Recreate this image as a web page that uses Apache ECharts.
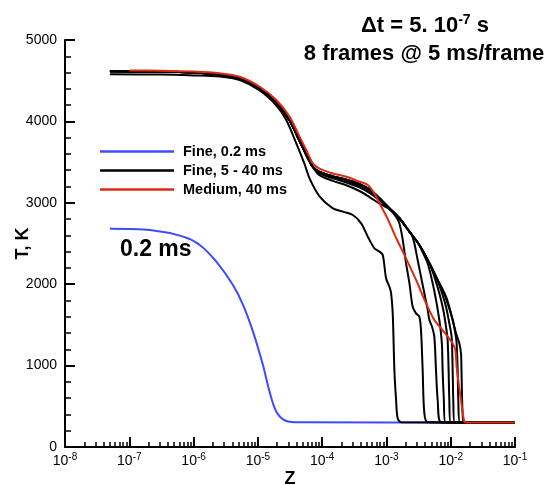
<!DOCTYPE html>
<html>
<head>
<meta charset="utf-8">
<script src="https://cdn.jsdelivr.net/npm/echarts@6/dist/echarts.min.js"></script>
<style>
  html, body { margin: 0; padding: 0; background: #fff; }
  #chart { width: 551px; height: 485px; }
</style>
</head>
<body>
<div id="chart"></div>
<script>
// Temperature profiles T(Z) along the axis, log-scaled Z.

// Axis ticks
const decadeTicks = [1e-8, 1e-7, 1e-6, 1e-5, 1e-4, 1e-3, 1e-2, 1e-1];
const minorMultipliers = [2, 3, 4, 5, 6, 7, 8, 9];

// Fine grid, 0.2 ms  [Z, T]
const fine02 = [
  [5e-8, 2680], [2.1e-7, 2665], [6.9e-7, 2584], [1.25e-6, 2482], [2.26e-6, 2277],
  [4.1e-6, 1990], [5.9e-6, 1744], [8.4e-6, 1417], [1.2e-5, 1007], [1.52e-5, 680],
  [1.94e-5, 434], [2.77e-5, 319], [4.46e-5, 303], [1e-1, 300]
];

// Fine grid, 5 ms frame  [Z, T]
const frame5ms = [
  [5e-8, 4578], [3.2e-7, 4575], [1e-6, 4565], [2.55e-6, 4552], [5.2e-6, 4508],
  [1.07e-5, 4380], [1.94e-5, 4195], [2.77e-5, 4017], [3.96e-5, 3731], [5.25e-5, 3490],
  [6.37e-5, 3300], [9.1e-5, 3080], [1.47e-4, 2932], [2.1e-4, 2891], [3.0e-4, 2850],
  [4.05e-4, 2748], [5.13e-4, 2584], [6.5e-4, 2441], [7.8e-4, 2400], [8.77e-4, 2360],
  [9.89e-4, 2070], [1.114e-3, 1969], [1.183e-3, 1888], [1.253e-3, 1642], [1.33e-3, 946],
  [1.413e-3, 577], [1.496e-3, 353], [1.69e-3, 305], [1e-1, 300]
];

// Hot core shared by the later frames (10 - 40 ms)
const zHot = [5e-8, 3.2e-7, 1e-6, 2.55e-6, 5.2e-6, 1.07e-5, 1.94e-5, 3.12e-5, 4.46e-5,
  5.66e-5, 7.18e-5, 9.1e-5, 1.47e-4, 2.37e-4, 3.81e-4, 5.45e-4, 7.8e-4];
const tHot10ms = [4615, 4612, 4600, 4575, 4530, 4400, 4230, 4010, 3760, 3590, 3440, 3340, 3270, 3215, 3145, 3070, 2990];
const tHot15ms = [4615, 4612, 4600, 4575, 4530, 4400, 4230, 4010, 3760, 3590, 3440, 3360, 3300, 3250, 3190, 3120, 3030];
const tHot20ms = [4615, 4612, 4600, 4575, 4530, 4400, 4230, 4010, 3760, 3590, 3440, 3370, 3312, 3268, 3210, 3145, 3045];
const tHotLate = [4615, 4612, 4600, 4575, 4530, 4400, 4230, 4010, 3760, 3590, 3440, 3380, 3325, 3285, 3230, 3165, 3055];

// Common flame front envelope
const zFront = [1.11e-3, 1.59e-3, 2.28e-3, 3.25e-3, 4.66e-3, 6.27e-3, 8.45e-3, 1.01e-2, 1.21e-2, 1.36e-2, 1.445e-2];
const tFront = [2932, 2810, 2645, 2482, 2257, 2052, 1847, 1642, 1397, 1274, 1151];

// Where each frame leaves the envelope and drops to ambient  [Z, T]
const tail10ms = [[1.11e-3, 2920], [1.41e-3, 2830], [1.59e-3, 2748], [1.795e-3, 2543], [2.02e-3, 2257],
  [2.28e-3, 2011], [2.56e-3, 1724], [2.89e-3, 1642], [3.25e-3, 1601], [3.45e-3, 1437],
  [3.66e-3, 946], [3.89e-3, 414], [4.39e-3, 305], [1e-1, 300]];
const tail15ms = [[2.5e-3, 2600], [2.72e-3, 2502], [3.06e-3, 2297], [3.45e-3, 2093], [3.89e-3, 1888],
  [4.39e-3, 1683], [4.66e-3, 1560], [5.12e-3, 1478], [5.56e-3, 1355], [5.9e-3, 946],
  [6.27e-3, 577], [7.06e-3, 305], [1e-1, 300]];
const tail20ms = [[3.66e-3, 2395], [4.38e-3, 2257], [5.24e-3, 2011], [6.04e-3, 1765], [6.65e-3, 1560],
  [7.06e-3, 1397], [7.33e-3, 1232], [7.48e-3, 946], [7.82e-3, 577], [8.24e-3, 305], [1e-1, 300]];
const tail25ms = [[5.56e-3, 2093], [6.65e-3, 1888], [7.67e-3, 1683], [8.45e-3, 1478], [8.95e-3, 1314],
  [9.27e-3, 946], [9.51e-3, 577], [9.95e-3, 305], [1e-1, 300]];
const tail30ms = [[5.9e-3, 2093], [7.06e-3, 1929], [8.45e-3, 1724], [9.51e-3, 1520], [1.033e-2, 1355],
  [1.072e-2, 946], [1.096e-2, 577], [1.148e-2, 305], [1e-1, 300]];
const tail35ms = [[7.48e-3, 1929], [8.95e-3, 1765], [1.072e-2, 1560], [1.18e-2, 1397], [1.236e-2, 1274],
  [1.282e-2, 946], [1.312e-2, 577], [1.387e-2, 305], [1e-1, 300]];
const tail40ms = [[1.47e-2, 950], [1.53e-2, 414], [1.62e-2, 305], [1e-1, 300]];

// Medium grid, 40 ms  [Z, T]
const medium40 = [
  [1e-7, 4625], [3.2e-7, 4622], [1e-6, 4612], [2.55e-6, 4591], [5.2e-6, 4549],
  [1.07e-5, 4426], [1.94e-5, 4263], [3.12e-5, 4058], [4.46e-5, 3812], [5.66e-5, 3649],
  [7.18e-5, 3485], [9.1e-5, 3420], [1.47e-4, 3360], [2.37e-4, 3321], [3.81e-4, 3259],
  [5.13e-4, 3219], [6.5e-4, 3116], [7.8e-4, 2994], [1.05e-3, 2800], [1.25e-3, 2666],
  [1.41e-3, 2570], [2.02e-3, 2318], [2.89e-3, 2052], [4.14e-3, 1765], [5.56e-3, 1560],
  [7.48e-3, 1437], [1.07e-2, 1274], [1.18e-2, 1192], [1.245e-2, 960], [1.445e-2, 577],
  [1.63e-2, 311], [1.78e-2, 300], [1e-1, 300]
];

// Assemble one frame: hot core, then the envelope up to its own departure point, then its tail
function buildFrame(tHot, tail) {
  const pts = zHot.map((z, i) => [z, tHot[i]]);
  zFront.forEach((z, i) => { if (z < tail[0][0]) pts.push([z, tFront[i]]); });
  return pts.concat(tail);
}

const fineFrames = [
  frame5ms,
  buildFrame(tHot10ms, tail10ms),
  buildFrame(tHot15ms, tail15ms),
  buildFrame(tHot20ms, tail20ms),
  buildFrame(tHotLate, tail25ms),
  buildFrame(tHotLate, tail30ms),
  buildFrame(tHotLate, tail35ms),
  buildFrame(tHotLate, tail40ms)
];

const minorTicks = [];
decadeTicks.slice(0, -1).forEach(d => minorMultipliers.forEach(m => minorTicks.push(m * d)));

const FONT = '"Liberation Sans", Arial, Helvetica, sans-serif';
const BLUE = '#3c4bff';
const RED = '#de2a12';

const lineBase = { type: 'line', symbol: 'none', smooth: 0.3, clip: true };

const series = [
  Object.assign({}, lineBase, {
    name: 'Fine, 0.2 ms', data: fine02, z: 2,
    lineStyle: { color: BLUE, width: 2 }, itemStyle: { color: BLUE }
  })
];
fineFrames.forEach(d => series.push(Object.assign({}, lineBase, {
  name: 'Fine, 5 - 40 ms', data: d, z: 3,
  lineStyle: { color: '#000', width: 2 }, itemStyle: { color: '#000' }
})));
series.push(Object.assign({}, lineBase, {
  name: 'Medium, 40 ms', data: medium40, z: 4,
  lineStyle: { color: RED, width: 2 }, itemStyle: { color: RED }
}));

const chart = echarts.init(document.getElementById('chart'), null, { renderer: 'canvas' });

chart.setOption({
  animation: false,
  backgroundColor: '#fff',
  textStyle: { fontFamily: FONT },
  title: [
    {
      text: '{d|Δ}t = 5. 10{sup|-7} s',
      left: 420, top: 8, textAlign: 'center',
      textStyle: {
        fontFamily: FONT, fontSize: 22, fontWeight: 'bold', color: '#000', lineHeight: 26,
        rich: {
          d: { fontFamily: FONT, fontSize: 22, fontWeight: 'bold', color: '#000', lineHeight: 26 },
          sup: { fontFamily: FONT, fontSize: 14, fontWeight: 'bold', color: '#000', lineHeight: 14, verticalAlign: 'top' }
        }
      }
    },
    {
      text: '8 frames @ 5 ms/frame',
      left: 419, top: 38, textAlign: 'center',
      textStyle: { fontFamily: FONT, fontSize: 22, fontWeight: 'bold', color: '#000' }
    }
  ],
  legend: {
    orient: 'vertical',
    left: 95, top: 138,
    icon: 'rect',
    itemWidth: 74, itemHeight: 2.5, itemGap: 2,
    selectedMode: false,
    data: ['Fine, 0.2 ms', 'Fine, 5 - 40 ms', 'Medium, 40 ms'],
    textStyle: { fontFamily: FONT, fontSize: 14.5, fontWeight: 'bold', color: '#000', lineHeight: 17, padding: [0, 0, 0, 4] }
  },
  grid: { left: 65, right: 36, top: 40, bottom: 38, containLabel: false, outerBoundsMode: 'none' },
  xAxis: [
    {
      type: 'log', logBase: 10, min: 1e-8, max: 1e-1,
      name: 'Z', nameLocation: 'middle', nameGap: 23, nameMoveOverlap: false,
      nameTextStyle: { fontFamily: FONT, fontSize: 18, fontWeight: 'bold', color: '#000' },
      axisLine: { show: true, onZero: false, lineStyle: { color: '#000', width: 2 } },
      axisTick: { show: true, inside: true, length: 10, customValues: decadeTicks, lineStyle: { color: '#000', width: 2 } },
      axisLabel: {
        show: true, margin: 5, customValues: decadeTicks, color: '#000',
        formatter: v => '10{sup|' + Math.round(Math.log10(v)) + '}',
        rich: {
          sup: { fontFamily: FONT, fontSize: 10, color: '#000', lineHeight: 10, verticalAlign: 'top' }
        },
        fontFamily: FONT, fontSize: 14, lineHeight: 18
      },
      splitLine: { show: false },
      minorTick: { show: false }
    },
    {
      type: 'log', logBase: 10, min: 1e-8, max: 1e-1, position: 'bottom', offset: 0,
      axisLine: { show: false },
      axisTick: { show: true, inside: true, length: 5, customValues: minorTicks, lineStyle: { color: '#000', width: 1.5 } },
      axisLabel: { show: false },
      splitLine: { show: false }
    }
  ],
  yAxis: {
    type: 'value', min: 0, max: 5000, interval: 1000,
    name: 'T, K', nameLocation: 'middle', nameGap: 33, nameRotate: 90, nameMoveOverlap: false,
    nameTextStyle: { fontFamily: FONT, fontSize: 18, fontWeight: 'bold', color: '#000' },
    axisLine: { show: true, lineStyle: { color: '#000', width: 2 } },
    axisTick: { show: true, inside: true, length: 10, lineStyle: { color: '#000', width: 2 } },
    minorTick: { show: true, splitNumber: 5, length: 6, lineStyle: { color: '#000', width: 1.5 } },
    axisLabel: { margin: 8, fontFamily: FONT, fontSize: 14, color: '#000', formatter: v => String(v) },
    splitLine: { show: false },
    minorSplitLine: { show: false }
  },
  graphic: [
    {
      type: 'text', left: 120, top: 238,
      style: { text: '0.2 ms', fontFamily: FONT, fontSize: 23, fontWeight: 'bold', fill: '#000' }
    }
  ],
  series: series
});
</script>
</body>
</html>
